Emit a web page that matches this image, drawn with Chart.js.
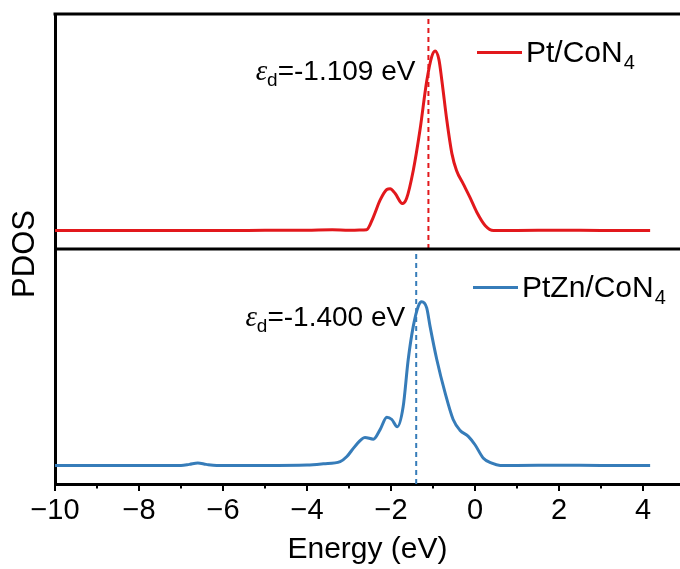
<!DOCTYPE html>
<html>
<head>
<meta charset="utf-8">
<script src="https://cdn.jsdelivr.net/npm/chart.js@4.4.1/dist/chart.umd.min.js"></script>
<style>
  html, body { margin: 0; padding: 0; background: #fff; }
  #wrap { width: 680px; height: 569px; position: relative; }
</style>
</head>
<body>
<div id="wrap"><canvas id="pdos-chart"></canvas></div>
<script>
// energies (eV) and PDOS (arb. units)
const energyPt = [-10, -8, -6, -5, -4, -3.4, -3.0, -2.75, -2.58, -2.42, -2.26, -2.10, -2.02, -1.90, -1.73, -1.63,
  -1.47, -1.31, -1.15, -1.03, -0.95, -0.86, -0.79, -0.67, -0.55, -0.44, -0.28, -0.12, 0.04, 0.24, 0.44, 0.7, 1.0, 2.0, 3.0, 4.17];
const pdosPt = [0, 0, 0, 0.003, 0.005, 0.012, 0.004, 0.008, 0.015, 0.24, 0.54, 0.73, 0.745, 0.66, 0.48, 0.57,
  1.07, 1.79, 2.66, 3.10, 3.20, 3.05, 2.68, 1.96, 1.37, 1.07, 0.83, 0.59, 0.33, 0.09, 0.0, 0, 0, 0.006, 0, 0];

const energyPtZn = [-10, -8, -7.0, -6.8, -6.6, -6.4, -6.15, -5, -4, -3.61, -3.21, -3.05, -2.86, -2.62, -2.42, -2.26,
  -2.10, -1.98, -1.85, -1.71, -1.59, -1.47, -1.35, -1.27, -1.15, -1.07, -0.91, -0.71, -0.52, -0.36, -0.16, 0.0,
  0.2, 0.4, 0.6, 1.0, 2.0, 3.0, 4.17];
const pdosPtZn = [0, 0, 0, 0.02, 0.045, 0.02, 0, 0, 0.008, 0.03, 0.07, 0.16, 0.34, 0.50, 0.47, 0.64,
  0.86, 0.82, 0.69, 1.05, 1.89, 2.48, 2.84, 2.92, 2.81, 2.48, 1.89, 1.29, 0.82, 0.63, 0.52, 0.37,
  0.13, 0.04, 0, 0, 0.006, 0, 0];

// d-band centres
const epsPt = -1.109;
const epsPtZn = -1.400;

const xTicks = [-10, -8, -6, -4, -2, 0, 2, 4];
const xMinorTicks = [-9, -7, -5, -3, -1, 1, 3];

const labels = ['Pt/CoN4', 'PtZn/CoN4'];
const RED = 'rgb(226, 24, 28)';
const BLUE = 'rgb(54, 124, 185)';
const SANS = '"Liberation Sans", Arial, Helvetica, sans-serif';
const YMIN = -0.33, YMAX = 3.86;

function pts(xs, ys) {
  return xs.map((x, i) => ({x: x, y: ys[i]}));
}

function minus(v) {
  return v < 0 ? '\u2212' + Math.abs(v) : String(v);
}

// label with trailing subscript digit
function drawSubLabel(ctx, text, x, y, size) {
  const main = text.slice(0, -1), sub = text.slice(-1);
  ctx.font = size + 'px ' + SANS;
  ctx.fillText(main, x, y);
  const w = ctx.measureText(main).width;
  ctx.font = Math.round(size * 0.68) + 'px ' + SANS;
  ctx.fillText(sub, x + w + 1, y + 7);
}

function drawEps(ctx, value, xRight, y) {
  const txt = '=' + value.toFixed(3) + ' eV';
  ctx.font = 'italic 29px "Liberation Serif", "Times New Roman", serif';
  const wE = ctx.measureText('\u03b5').width;
  ctx.font = '19px ' + SANS;
  const wD = ctx.measureText('d').width;
  ctx.font = '28px ' + SANS;
  const wT = ctx.measureText(txt).width;
  let x = xRight - (wE + wD + wT);
  ctx.font = 'italic 29px "Liberation Serif", "Times New Roman", serif';
  ctx.fillText('\u03b5', x, y);
  x += wE;
  ctx.font = '19px ' + SANS;
  ctx.fillText('d', x, y + 6);
  x += wD;
  ctx.font = '28px ' + SANS;
  ctx.fillText(txt, x, y);
}

const framePlugin = {
  id: 'frame',
  afterDraw(chart) {
    const ctx = chart.ctx;
    const area = chart.chartArea;
    const xs = chart.scales.x;
    const top = chart.scales.yTop, bot = chart.scales.yBot;
    ctx.save();
    ctx.strokeStyle = '#000';
    ctx.lineWidth = 3;
    // top border and panel separator
    ctx.beginPath();
    ctx.moveTo(area.left - 1.5, area.top);
    ctx.lineTo(area.right, area.top);
    ctx.moveTo(area.left, top.bottom);
    ctx.lineTo(area.right, top.bottom);
    ctx.stroke();
    // x tick marks
    ctx.lineWidth = 2;
    ctx.beginPath();
    xTicks.forEach(v => {
      const px = xs.getPixelForValue(v);
      ctx.moveTo(px, area.bottom);
      ctx.lineTo(px, area.bottom + 7);
    });
    xMinorTicks.forEach(v => {
      const px = xs.getPixelForValue(v);
      ctx.moveTo(px, area.bottom);
      ctx.lineTo(px, area.bottom + 4.5);
    });
    ctx.stroke();

    ctx.fillStyle = '#000';
    ctx.textBaseline = 'alphabetic';
    ctx.textAlign = 'left';
    // annotations
    drawEps(ctx, epsPt, xs.getPixelForValue(epsPt) - 13, top.getPixelForValue(2.69));
    drawEps(ctx, epsPtZn, xs.getPixelForValue(epsPtZn) - 11, bot.getPixelForValue(2.49));

    // legends, one per panel
    [[chart.data.datasets[0], top, 477], [chart.data.datasets[1], bot, 473]].forEach(([ds, sc, lx]) => {
      const ly = sc.top + 38.5;
      ctx.strokeStyle = ds.borderColor;
      ctx.lineWidth = 3;
      ctx.beginPath();
      ctx.moveTo(lx, ly);
      ctx.lineTo(lx + 45, ly);
      ctx.stroke();
      ctx.fillStyle = '#000';
      drawSubLabel(ctx, ds.label, lx + 49, ly + 9, 30);
    });

    // y title
    ctx.save();
    ctx.translate(25, (area.top + area.bottom) / 2 + 5);
    ctx.rotate(-Math.PI / 2);
    ctx.textAlign = 'center';
    ctx.textBaseline = 'middle';
    ctx.font = '31px ' + SANS;
    ctx.fillText('PDOS', 0, 0);
    ctx.restore();
    ctx.restore();
  }
};

const yScale = {
  type: 'linear',
  position: 'left',
  stack: 'pdos',
  stackWeight: 1,
  min: YMIN,
  max: YMAX,
  ticks: {display: false},
  grid: {display: false},
  border: {display: true, color: '#000', width: 3},
  afterFit: s => { s.width = 55; }
};

new Chart(document.getElementById('pdos-chart').getContext('2d'), {
  type: 'line',
  data: {
    datasets: [
      {
        label: labels[0],
        data: pts(energyPt, pdosPt),
        yAxisID: 'yTop',
        borderColor: RED,
        borderWidth: 3,
        pointRadius: 0,
        cubicInterpolationMode: 'monotone'
      },
      {
        label: labels[1],
        data: pts(energyPtZn, pdosPtZn),
        yAxisID: 'yBot',
        borderColor: BLUE,
        borderWidth: 3,
        pointRadius: 0,
        cubicInterpolationMode: 'monotone'
      },
      {
        label: 'eps Pt',
        data: [{x: epsPt, y: YMIN}, {x: epsPt, y: YMAX}],
        yAxisID: 'yTop',
        borderColor: RED,
        borderWidth: 2,
        borderDash: [5, 4],
        pointRadius: 0
      },
      {
        label: 'eps PtZn',
        data: [{x: epsPtZn, y: YMIN}, {x: epsPtZn, y: YMAX}],
        yAxisID: 'yBot',
        borderColor: BLUE,
        borderWidth: 2,
        borderDash: [5, 4],
        pointRadius: 0
      }
    ]
  },
  options: {
    responsive: true,
    maintainAspectRatio: false,
    animation: false,
    layout: {padding: {top: 14, right: 0, left: 0, bottom: 0}},
    plugins: {legend: {display: false}, tooltip: {enabled: false}},
    scales: {
      x: {
        type: 'linear',
        min: -10,
        max: -10 + 625 / 42,
        afterBuildTicks: s => { s.ticks = xTicks.map(v => ({value: v})); },
        afterFit: s => { s.height = 85; },
        ticks: {
          color: '#000',
          font: {family: SANS, size: 29},
          padding: 10,
          maxRotation: 0,
          callback: v => minus(v)
        },
        grid: {display: false, drawTicks: false},
        border: {display: true, color: '#000', width: 3},
        title: {
          display: true,
          text: 'Energy (eV)',
          color: '#000',
          font: {family: SANS, size: 30},
          padding: {top: 0, bottom: 1}
        }
      },
      // first scale in a stack is placed at the bottom
      yBot: Object.assign({}, yScale),
      yTop: Object.assign({}, yScale)
    }
  },
  plugins: [framePlugin]
});
</script>
</body>
</html>
